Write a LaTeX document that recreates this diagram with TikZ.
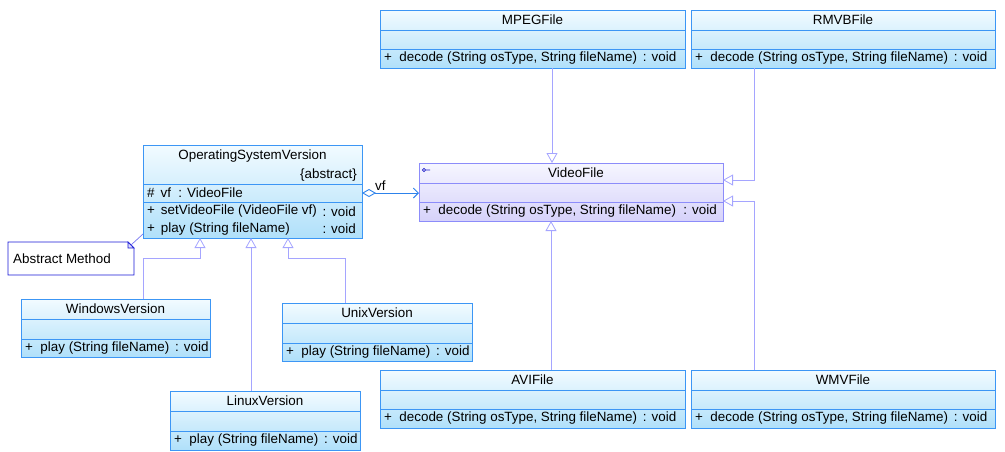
\documentclass[tikz,border=0pt]{standalone}
\usepackage{fontspec}
\setmainfont{Liberation Sans}
\usetikzlibrary{arrows.meta,fit,calc}
\definecolor{clsborder}{RGB}{60,150,245}
\definecolor{clstop}{RGB}{242,251,255}
\definecolor{clsbot}{RGB}{176,224,250}
\definecolor{vfborder}{RGB}{140,140,250}
\definecolor{vftop}{RGB}{246,246,255}
\definecolor{vfbot}{RGB}{214,210,250}
\definecolor{inhcol}{RGB}{165,165,255}
\definecolor{aggcol}{RGB}{45,130,235}
\definecolor{notecol}{RGB}{25,25,215}
\definecolor{notelink}{RGB}{120,120,240}
\definecolor{iconcol}{RGB}{30,30,200}
\tikzset{
  clsbox/.style={draw=clsborder, line width=0.9pt, top color=clstop, bottom color=clsbot, inner sep=0pt, outer sep=0pt},
  vfbox/.style={draw=vfborder, line width=0.9pt, top color=vftop, bottom color=vfbot, inner sep=0pt, outer sep=0pt},
  clssep/.style={draw=clsborder, line width=0.9pt},
  vfsep/.style={draw=vfborder, line width=0.9pt},
  txt/.style={font=\fontsize{13.4}{15}\selectfont, inner sep=0pt, text=black},
  inh/.style={draw=inhcol, line width=0.8pt, -{Triangle[open, length=10pt, width=11pt]}},
  agg/.style={draw=aggcol, line width=0.9pt, {Diamond[open, length=14pt, width=8pt]}-{Straight Barb[length=5pt, width=10pt]}},
  notelinkstyle/.style={draw=notelink, line width=0.7pt},
  notebox/.style={draw=notecol, line width=0.9pt, fill=white},
}
% #1 style prefix, #2 name, #3 x1, #4 y1, #5 x2, #6 y2, #7 s1, #8 s2, #9 title
\newcommand{\UMLclass}[9]{%
  \node[#1box, fit={(#3,#4) (#5,#6)}] (#2) {};
  \draw[#1sep] (#3,#7) -- (#5,#7) (#3,#8) -- (#5,#8);
  \node[txt] at ({(#3+#5)/2},{(#4+#7)/2}) {#9};
}
\begin{document}
\begin{tikzpicture}[x=1pt,y=-1pt]
\useasboundingbox (0,0) rectangle (1005,451);

% classes
\UMLclass{cls}{mpeg}{380}{10}{685}{68}{30}{49}{MPEGFile}
\node[txt, anchor=west] (mpegop) at (384,58.5) {+\ \ decode (String osType, String fileName) \,: void};
\UMLclass{cls}{rmvb}{691}{10}{995}{68}{30}{49}{RMVBFile}
\node[txt, anchor=west] (rmvbop) at (695,58.5) {+\ \ decode (String osType, String fileName) \,: void};
\node[vfbox, fit={(419,163) (723,221)}] (vf) {};
\draw[vfsep] (419,183) -- (723,183) (419,202) -- (723,202);
\node[txt] (vftitle) at (576,173) {VideoFile};
\node[txt, anchor=west] (vfop) at (423,211.5) {+\ \ decode (String osType, String fileName) \ : void};
\draw[iconcol, line width=0.6pt] (424,170) circle (1.6) (425.6,170) -- (430,170);
\UMLclass{cls}{avi}{380}{370}{685}{428}{390}{409}{AVIFile}
\node[txt, anchor=west] (aviop) at (384,418.5) {+\ \ decode (String osType, String fileName) \,: void};
\UMLclass{cls}{wmv}{691}{370}{995}{428}{390}{409}{WMVFile}
\node[txt, anchor=west] (wmvop) at (695,418.5) {+\ \ decode (String osType, String fileName) \,: void};

% OperatingSystemVersion
\node[clsbox, fit={(143,145) (362,238)}] (osv) {};
\draw[clssep] (143,184) -- (362,184) (143,202) -- (362,202);
\node[txt] (osvtitle) at (252.5,156) {OperatingSystemVersion};
\node[txt, anchor=east] (osvabs) at (357,175) {\{abstract\}};
\node[txt, anchor=west] (osvattr) at (147,193) {\#\ \,vf\ \ : VideoFile};
\node[txt, anchor=west] (osvop1) at (147,211.5) {+\ \,setVideoFile (VideoFile vf)};
\node[txt, anchor=east] (osvop1r) at (356,211.5) {: void};
\node[txt, anchor=west] (osvop2) at (147,229) {+\ \,play (String fileName)};
\node[txt, anchor=east] (osvop2r) at (356,229) {: void};

\UMLclass{cls}{win}{21}{299}{210}{357}{319}{339}{WindowsVersion}
\node[txt, anchor=west] (winop) at (25,348) {+\ \ play (String fileName) \,: void};
\UMLclass{cls}{unix}{282}{303}{472}{361}{323}{343}{UnixVersion}
\node[txt, anchor=west] (unixop) at (286,352) {+\ \ play (String fileName) \,: void};
\UMLclass{cls}{lin}{170}{391}{360}{450}{411}{431}{LinuxVersion}
\node[txt, anchor=west] (linop) at (174,440.5) {+\ \ play (String fileName) \,: void};

% note
\node[fit={(8,242) (134,275)}, inner sep=0pt, outer sep=0pt] (note) {};
\draw[notebox] (note.south west) -- (note.north west) -- ([xshift=-6pt]note.north east)
  -- ([yshift=-6pt]note.north east) -- (note.south east) -- cycle;
\draw[notecol, line width=0.7pt, fill=notelink!25] ([xshift=-6pt]note.north east) -- ([xshift=-6pt,yshift=-6pt]note.north east) -- ([yshift=-6pt]note.north east) -- cycle;
\node[txt, anchor=west] (notetext) at (13,258.5) {Abstract Method};
\coordinate (nl) at (0,234);
\draw[notelinkstyle] ([xshift=-3pt,yshift=-3pt]note.north east) -- (osv.west |- nl);

% connector coordinates
\coordinate (x552) at (552,0);
\coordinate (x551) at (551,0);
\coordinate (rbend) at (754,180);
\coordinate (wbend) at (754,201);
\coordinate (wvbend) at (143,258);
\coordinate (ubend) at (345,258);
\coordinate (tipW) at (200,0);
\coordinate (tipL) at (251,0);
\coordinate (tipU) at (288,0);
\coordinate (ay) at (0,193);

% generalizations
\draw[inh] (mpeg.south -| x552) -- (vf.north -| x552);
\draw[inh] (rmvb.south -| rbend) -- (rbend) -- (vf.east |- rbend);
\draw[inh] (wmv.north -| wbend) -- (wbend) -- (vf.east |- wbend);
\draw[inh] (avi.north -| x551) -- (vf.south -| x551);
\draw[inh] (win.north -| wvbend) -- (wvbend) -| (osv.south -| tipW);
\draw[inh] (lin.north -| tipL) -- (osv.south -| tipL);
\draw[inh] (unix.north -| ubend) -- (ubend) -| (osv.south -| tipU);

% aggregation
\draw[agg] (osv.east |- ay) -- (vf.west |- ay);
\node[txt, anchor=south west] (vflabel) at (375,191) {vf};
\end{tikzpicture}
\end{document}
